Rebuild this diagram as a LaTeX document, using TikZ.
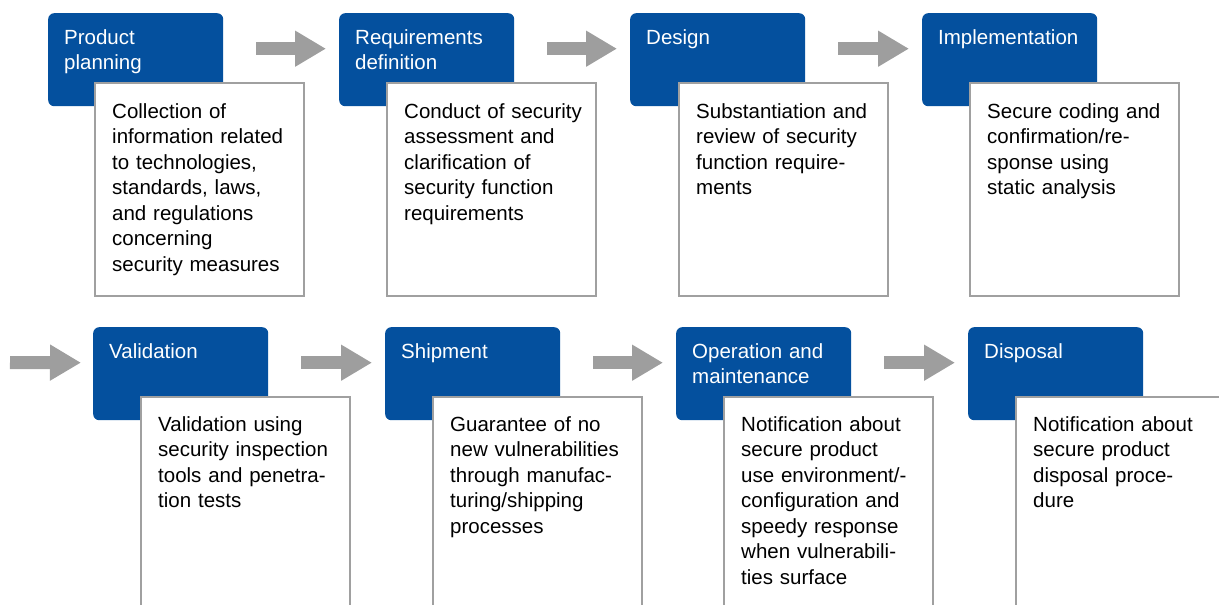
\documentclass[tikz,border=0pt]{standalone}
\usepackage{fontspec}
\setmainfont{Liberation Sans}
\usetikzlibrary{arrows.meta,calc}
\definecolor{phaseblue}{RGB}{4,80,158}
\definecolor{framegray}{RGB}{160,160,160}
\definecolor{arrowgray}{RGB}{158,158,158}
\tikzset{
  phasebox/.style={fill=phaseblue, rounded corners=6pt, minimum width=175pt, minimum height=93pt, inner sep=0pt, anchor=north west},
  phasetext/.style={text=white, text width=160pt, align=left, inner sep=0pt, anchor=base west, font=\fontsize{20.5}{25}\selectfont},
  descbox/.style={fill=white, draw=framegray, line width=2pt, minimum width=209pt, inner sep=0pt, anchor=north west},
  desctext/.style={text=black, text width=190pt, align=left, inner sep=0pt, anchor=base west, font=\fontsize{20.5}{25.5}\selectfont},
  flow/.style={draw=arrowgray, line width=13pt, -{Triangle[width=34pt,length=31pt]}, shorten <=33pt, shorten >=13pt}
}
\begin{document}
\begin{tikzpicture}[x=1pt,y=-1pt]
\useasboundingbox (0,0) rectangle (1219,605);
\clip (0,0) rectangle (1219,605);
% ---------- top row ----------
\node[phasebox] (p1) at (48,13) {};
\node[phasebox] (p2) at (339,13) {};
\node[phasebox] (p3) at (630,13) {};
\node[phasebox] (p4) at (922,13) {};
\node[descbox, minimum height=213pt] (d1) at (94,82) {};
\node[descbox, minimum height=213pt] (d2) at (386,82) {};
\node[descbox, minimum height=213pt] (d3) at (678,82) {};
\node[descbox, minimum height=213pt] (d4) at (969,82) {};
% ---------- bottom row ----------
\node[phasebox] (p5) at (93,327) {};
\node[phasebox] (p6) at (385,327) {};
\node[phasebox] (p7) at (676,327) {};
\node[phasebox] (p8) at (968,327) {};
\node[descbox, minimum height=240pt] (d5) at (140,396) {};
\node[descbox, minimum height=240pt] (d6) at (432,396) {};
\node[descbox, minimum height=240pt] (d7) at (723,396) {};
\node[descbox, minimum height=240pt] (d8) at (1015,396) {};
% ---------- titles ----------
\node[phasetext] (t1) at ([xshift=16pt,yshift=-31pt]p1.north west) {Product\\planning};
\node[phasetext] (t2) at ([xshift=16pt,yshift=-31pt]p2.north west) {Requirements\\definition};
\node[phasetext] (t3) at ([xshift=16pt,yshift=-31pt]p3.north west) {Design};
\node[phasetext] (t4) at ([xshift=16pt,yshift=-31pt]p4.north west) {Implementation};
\node[phasetext] (t5) at ([xshift=16pt,yshift=-31pt]p5.north west) {Validation};
\node[phasetext] (t6) at ([xshift=16pt,yshift=-31pt]p6.north west) {Shipment};
\node[phasetext] (t7) at ([xshift=16pt,yshift=-31pt]p7.north west) {Operation and\\maintenance};
\node[phasetext] (t8) at ([xshift=16pt,yshift=-31pt]p8.north west) {Disposal};
% ---------- descriptions ----------
\node[desctext] (x1) at ([xshift=18pt,yshift=-36pt]d1.north west) {Collection of\\information related\\to technologies,\\standards, laws,\\and regulations\\concerning\\security measures};
\node[desctext] (x2) at ([xshift=18pt,yshift=-36pt]d2.north west) {Conduct of security\\assessment and\\clarification of\\security function\\requirements};
\node[desctext] (x3) at ([xshift=18pt,yshift=-36pt]d3.north west) {Substantiation and\\review of security\\function require-\\ments};
\node[desctext] (x4) at ([xshift=18pt,yshift=-36pt]d4.north west) {Secure coding and\\confirmation/re-\\sponse using\\static analysis};
\node[desctext] (x5) at ([xshift=18pt,yshift=-35pt]d5.north west) {Validation using\\security inspection\\tools and penetra-\\tion tests};
\node[desctext] (x6) at ([xshift=18pt,yshift=-35pt]d6.north west) {Guarantee of no\\new vulnerabilities\\through manufac-\\turing/shipping\\processes};
\node[desctext] (x7) at ([xshift=18pt,yshift=-35pt]d7.north west) {Notification about\\secure product\\use environment/-\\configuration and\\speedy response\\when vulnerabili-\\ties surface};
\node[desctext] (x8) at ([xshift=18pt,yshift=-35pt]d8.north west) {Notification about\\secure product\\disposal proce-\\dure};
% ---------- arrows ----------
\draw[flow] ([yshift=11pt]p1.east) -- ([yshift=11pt]p2.west);
\draw[flow] ([yshift=11pt]p2.east) -- ([yshift=11pt]p3.west);
\draw[flow] ([yshift=11pt]p3.east) -- ([yshift=11pt]p4.west);
\coordinate (entry) at (10,362.5);
\draw[flow, shorten <=0pt, shorten >=12pt] (entry) -- ([yshift=11pt]p5.west);
\draw[flow] ([yshift=11pt]p5.east) -- ([yshift=11pt]p6.west);
\draw[flow] ([yshift=11pt]p6.east) -- ([yshift=11pt]p7.west);
\draw[flow] ([yshift=11pt]p7.east) -- ([yshift=11pt]p8.west);
\end{tikzpicture}
\end{document}
